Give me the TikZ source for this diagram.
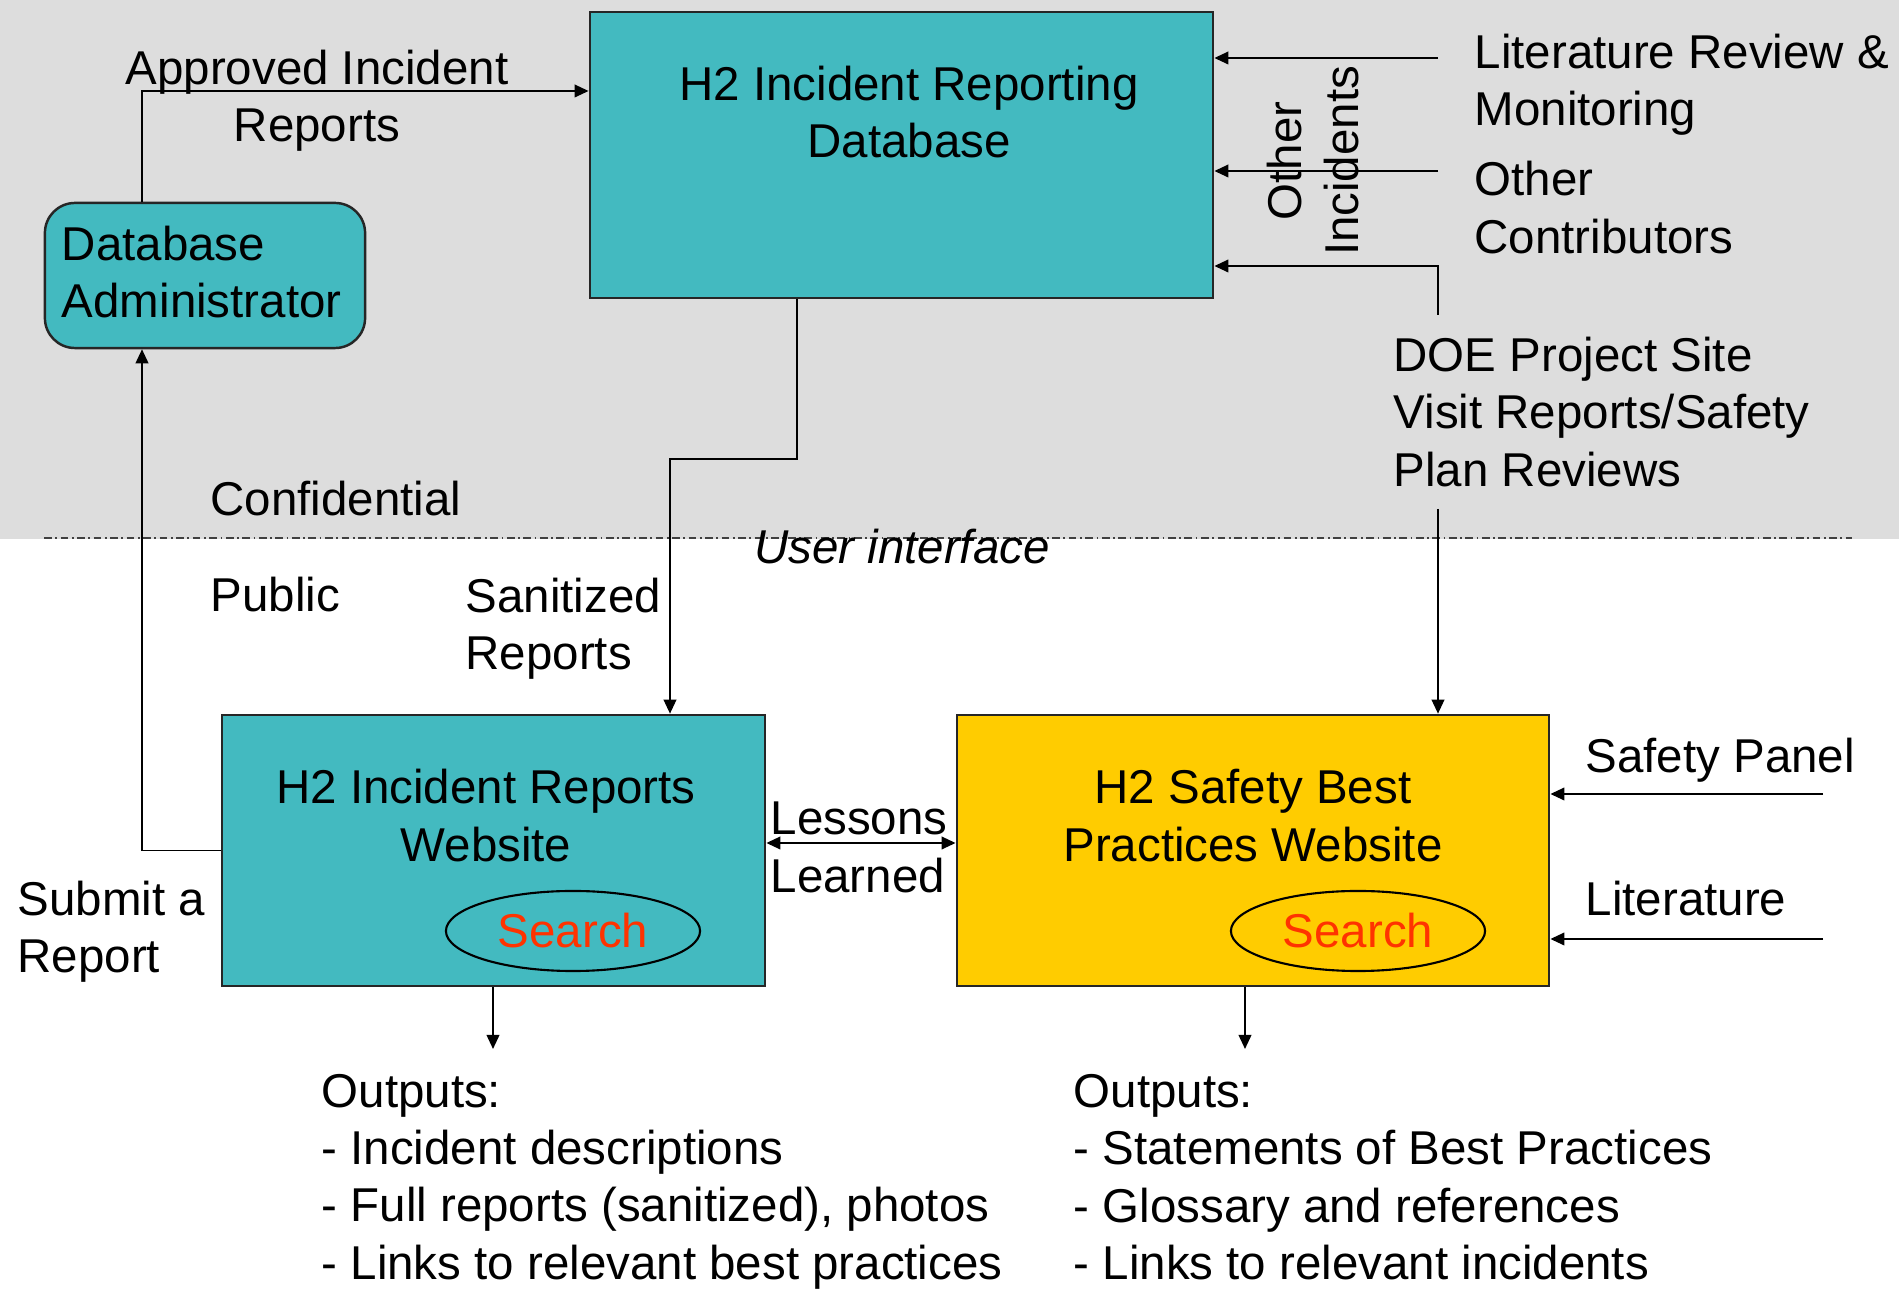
\documentclass[tikz,border=0pt]{standalone}
\usepackage{fontspec}
\setmainfont{Liberation Sans}
\usepackage{tikz}
\usetikzlibrary{arrows.meta,shapes.geometric}
\definecolor{tealbox}{RGB}{67,186,192}
\definecolor{goldbox}{RGB}{255,204,0}
\definecolor{zonegray}{RGB}{221,221,221}
\definecolor{searchred}{RGB}{255,51,0}
\tikzset{
  every node/.style={font=\fontsize{13.5}{16.3}\selectfont, inner sep=0pt},
  arr/.style={-{Triangle[length=4pt,width=3.6pt]}, line width=0.55pt},
  twoarr/.style={{Triangle[length=4pt,width=3.6pt]}-{Triangle[length=4pt,width=3.6pt]}, line width=0.55pt},
  boxline/.style={draw=black!85, line width=0.7pt},
  searchoval/.style={draw, ellipse, line width=0.6pt, minimum width=2.54cm, minimum height=0.8cm, text=searchred},
}

\begin{document}
\begin{tikzpicture}[x=0.01cm, y=-0.01cm]
\useasboundingbox (0,0) rectangle (1899,1289);
% confidential zone
\fill[zonegray] (0,0) rectangle (1899,539);
\draw[black!75, line width=0.45pt, dash pattern=on 2.2pt off 1pt on 0.5pt off 1pt] (44,538) -- (1852,538);

% boxes
\node[boxline, fill=tealbox, minimum width=6.23cm, minimum height=2.86cm] (db) at (901.5,155) {};
\node[align=center] (dbtext) at (909,112) {H2 Incident Reporting\\Database};
\node[boxline, fill=tealbox, rounded corners=0.3cm, minimum width=3.2cm, minimum height=1.45cm,
      text width=2.86cm, align=left, text depth=0.645cm] (admin) at (205,275.5) {Database\\Administrator};
\node[boxline, fill=tealbox, minimum width=5.43cm, minimum height=2.71cm] (web) at (493.5,850.5) {};
\node[align=center] (webtext) at (486,815.5) {H2 Incident Reports\\Website};
\node[searchoval] (websearch) at (573,931) {Search};
\node[boxline, fill=goldbox, minimum width=5.92cm, minimum height=2.71cm] (bp) at (1253,850.5) {};
\node[align=center] (bptext) at (1253,815.5) {H2 Safety Best\\Practices Website};
\node[searchoval] (bpsearch) at (1358,931) {Search};

% labels
\node[align=center] (approved) at (317,101) {Approved Incident\\Reports};
\node[anchor=west] (conf) at (210,499) {Confidential};
\node[anchor=west] (public) at (210,595) {Public};
\node[anchor=west, align=left] (sanit) at (465,629) {Sanitized\\Reports};
\node[font=\fontsize{13.5}{16.3}\selectfont\itshape] (ui) at (902,547) {User interface};
\node[rotate=90, align=center] (otherinc) at (1313,161) {Other\\Incidents};
\node[anchor=west, align=left] (litrev) at (1474,85) {Literature Review \&\\Monitoring};
\node[anchor=west, align=left] (othercon) at (1474,207.5) {Other\\Contributors};
\node[anchor=west, align=left] (doe) at (1393,412) {DOE Project Site\\Visit Reports/Safety\\Plan Reviews};
\node[anchor=west] (panel) at (1585,760) {Safety Panel};
\node[anchor=west] (lit) at (1585,899) {Literature};
\node[anchor=west, align=left] (lessons) at (770,847.5) {Lessons\\Learned};
\node[anchor=west, align=left] (submit) at (17,932) {Submit a\\Report};
\node[anchor=west, align=left] (outweb) at (321,1181.5) {Outputs:\\- Incident descriptions\\- Full reports (sanitized), photos\\- Links to relevant best practices};
\node[anchor=west, align=left] (outbp) at (1073,1177) {Outputs:\\- Statements of Best Practices\\- Glossary and references\\- Links to relevant incidents};

% connectors
\coordinate (litend) at (1438,58);
\coordinate (conend) at (1438,171);
\coordinate (doetop) at (1438,315);
\coordinate (doebot) at (1438,509);
\coordinate (panelend) at (1823,794);
\coordinate (litsrc) at (1823,939);
\coordinate (outwebend) at (493,1049);
\coordinate (outbpend) at (1245,1049);
\draw[arr] (admin.north -| 142,0) |- (db.west |- 0,91);
\draw[arr] (web.west) -| (admin.south -| 142,0);
\draw[arr] (db.south -| 797,0) -- (797,459) -| (web.north -| 670,0);
\draw[arr] (litend) -- (db.east |- litend);
\draw[arr] (conend) -- (db.east |- conend);
\draw[arr] (doetop) |- (db.east |- 0,266);
\draw[arr] (doebot) -- (bp.north -| doebot);
\draw[twoarr] (web.east |- 0,843) -- (bp.west |- 0,843);
\draw[arr] (panelend) -- (bp.east |- panelend);
\draw[arr] (litsrc) -- (bp.east |- litsrc);
\draw[arr] (web.south -| outwebend) -- (outwebend);
\draw[arr] (bp.south -| outbpend) -- (outbpend);
\end{tikzpicture}
\end{document}
